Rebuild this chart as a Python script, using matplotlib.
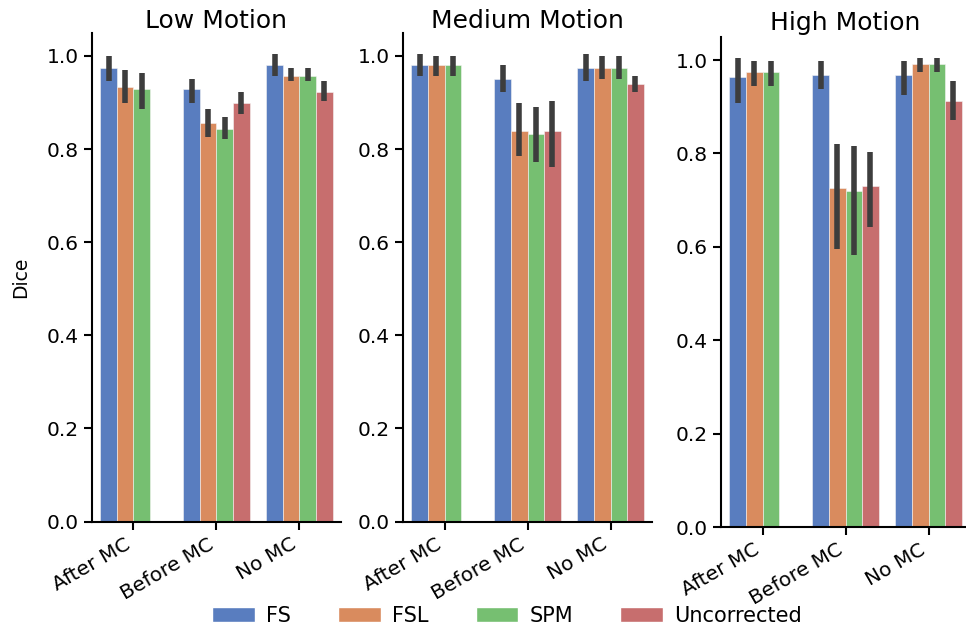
import numpy as np
import matplotlib
matplotlib.use("Agg")
import matplotlib.pyplot as plt
from matplotlib.patches import Patch

# data (mean Dice, lower/upper CI)
categories = ["After MC", "Before MC", "No MC"]
methods = ["FS", "FSL", "SPM", "Uncorrected"]
panels = ["Low Motion", "Medium Motion", "High Motion"]
nan = np.nan

low_mean = {
    "FS":          [0.974, 0.928, 0.981],
    "FSL":         [0.933, 0.856, 0.957],
    "SPM":         [0.928, 0.844, 0.957],
    "Uncorrected": [nan,   0.898, 0.922],
}
low_lo = {
    "FS":          [0.946, 0.898, 0.958],
    "FSL":         [0.898, 0.826, 0.946],
    "SPM":         [0.886, 0.821, 0.946],
    "Uncorrected": [nan,   0.875, 0.904],
}
low_hi = {
    "FS":          [0.999, 0.951, 1.005],
    "FSL":         [0.969, 0.885, 0.975],
    "SPM":         [0.963, 0.868, 0.975],
    "Uncorrected": [nan,   0.922, 0.946],
}

med_mean = {
    "FS":          [0.981, 0.951, 0.975],
    "FSL":         [0.981, 0.838, 0.975],
    "SPM":         [0.981, 0.832, 0.975],
    "Uncorrected": [nan,   0.838, 0.940],
}
med_lo = {
    "FS":          [0.958, 0.922, 0.946],
    "FSL":         [0.958, 0.785, 0.951],
    "SPM":         [0.958, 0.773, 0.951],
    "Uncorrected": [nan,   0.761, 0.922],
}
med_hi = {
    "FS":          [1.005, 0.981, 1.005],
    "FSL":         [0.999, 0.898, 0.999],
    "SPM":         [0.999, 0.891, 0.999],
    "Uncorrected": [nan,   0.904, 0.958],
}

high_mean = {
    "FS":          [0.963, 0.969, 0.969],
    "FSL":         [0.974, 0.725, 0.992],
    "SPM":         [0.974, 0.720, 0.992],
    "Uncorrected": [nan,   0.731, 0.912],
}
high_lo = {
    "FS":          [0.909, 0.939, 0.926],
    "FSL":         [0.945, 0.595, 0.975],
    "SPM":         [0.945, 0.583, 0.975],
    "Uncorrected": [nan,   0.642, 0.871],
}
high_hi = {
    "FS":          [1.004, 0.998, 0.998],
    "FSL":         [0.998, 0.820, 1.004],
    "SPM":         [0.998, 0.815, 1.004],
    "Uncorrected": [nan,   0.802, 0.956],
}

colors = ["#597dbf", "#d98b5e", "#76bf71", "#c76e6e"]

plt.rcParams["font.family"] = "DejaVu Sans"
plt.rcParams["axes.linewidth"] = 1.5
plt.rcParams["xtick.major.width"] = 1.5
plt.rcParams["ytick.major.width"] = 1.5
plt.rcParams["xtick.major.size"] = 6
plt.rcParams["ytick.major.size"] = 6

fig = plt.figure(figsize=(9.66, 6.26), dpi=100)
positions = [
    [0.0952, 0.1669, 0.2578, 0.7809],
    [0.4172, 0.1669, 0.2578, 0.7809],
    [0.7464, 0.1581, 0.2578, 0.7833],
]
title_pads = [2, 2, 5]

data = [(low_mean, low_lo, low_hi), (med_mean, med_lo, med_hi),
        (high_mean, high_lo, high_hi)]

x = np.arange(len(categories))
width = 0.2
for i, (title, (mean, lo, hi)) in enumerate(zip(panels, data)):
    ax = fig.add_axes(positions[i])
    for j, m in enumerate(methods):
        xs = x + (j - 1.5) * width
        vals = np.array(mean[m])
        err = np.array([vals - np.array(lo[m]), np.array(hi[m]) - vals])
        ax.bar(xs, vals, width, color=colors[j], edgecolor="#f4f4f4", linewidth=0.4)
        ax.errorbar(xs, vals, yerr=err, fmt="none", ecolor="#3d3d3d",
                    elinewidth=4.0, capsize=0)
    ax.set_xlim(-0.5, 2.5)
    ax.set_ylim(0, 1.05)
    ax.set_yticks([0.0, 0.2, 0.4, 0.6, 0.8, 1.0])
    ax.set_yticklabels(["0.0", "0.2", "0.4", "0.6", "0.8", "1.0"], fontsize=14.5)
    ax.set_xticks(x)
    ax.set_xticklabels(categories, rotation=30, ha="right", fontsize=14.5)
    ax.set_title(title, fontsize=18, pad=title_pads[i])
    ax.spines["top"].set_visible(False)
    ax.spines["right"].set_visible(False)
    if i == 0:
        ax.set_ylabel("Dice", fontsize=13.5, labelpad=12)

handles = [Patch(facecolor=c, edgecolor="white") for c in colors]
fig.legend(handles, methods, loc="lower center", ncol=4, frameon=False,
           fontsize=15, bbox_to_anchor=(0.525, -0.03), handlelength=2.05,
           handleheight=0.75, columnspacing=2.25, handletextpad=0.55)

fig.savefig("out.png", dpi=100)
